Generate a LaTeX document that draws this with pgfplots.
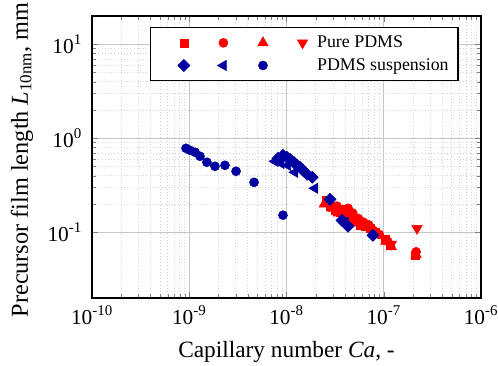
\documentclass[border=0pt]{standalone}
\usepackage{fontspec}
\setmainfont{Liberation Serif}
\usepackage{pgfplots}
\pgfplotsset{compat=1.18}
\definecolor{pred}{RGB}{255,0,0}
\definecolor{pblue}{RGB}{0,0,160}
\pgfplotsset{
  stdleg/.style={legend image code/.code={\path (0cm,0cm) (0.6cm,0cm); \draw[##1, line width=0.4pt] plot coordinates {(0.3cm,0cm)};}},
  firstleg/.style={legend image code/.code={\path (-0.39cm,0cm) (0.6cm,0cm); \draw[##1, line width=0.4pt] plot coordinates {(0.3cm,0cm)};}},
  log number format basis/.code 2 args={\mbox{\fontsize{16}{18}\selectfont #1\textsuperscript{\pgfmathprintnumber[assume math mode=true]{#2}}}},
}
\begin{document}
\begin{tikzpicture}
\begin{axis}[
  scale only axis, width=291.75pt, height=211.5pt,
  xmode=log, ymode=log,
  xmin=1e-10, xmax=1e-6, ymin=0.02, ymax=20,
  xtick={1e-10,1e-9,1e-8,1e-7,1e-6},
  ytick={0.1,1,10},
  every tick label/.append style={font=\fontsize{16}{18}\selectfont},
  xticklabel style={yshift=-2.5pt},
  yticklabel style={xshift=-4pt},
  tick align=inside,
  grid=both,
  major grid style={gray!45, line width=0.6pt},
  minor grid style={gray!35, dotted, line width=0.5pt},
  axis line style={line width=0.9pt},
  xlabel={Capillary number \textit{Ca}, -},
  ylabel={Precursor film length \textit{L}\textsubscript{10nm}, mm},
  xlabel style={font=\fontsize{17.5}{20}\selectfont, at={(axis description cs:0.5,-0.19)}, anchor=center},
  ylabel style={font=\fontsize{18.2}{21}\selectfont, at={(axis description cs:-0.18,0.49)}, anchor=center},
  legend columns=4,
  legend cell align=left,
  legend style={at={(axis description cs:0.149,0.961)}, anchor=north west,
    font=\fontsize{13.4}{15}\selectfont, draw=black, line width=0.8pt,
    inner xsep=5pt, inner ysep=3pt,
    nodes={inner ysep=3.3pt, line width=0.4pt},
    /tikz/every even column/.append style={column sep=7.8pt}},
  stdleg,
]
% Pure PDMS
\addplot[only marks, mark=square*, color=pred, mark size=3pt, firstleg]
  coordinates {
  (2.55e-8,0.22) (2.8e-8,0.19) (3.15e-8,0.17) (3.55e-8,0.163) (4.0e-8,0.148)
  (4.5e-8,0.14) (5.06e-8,0.13) (5.7e-8,0.12) (6.41e-8,0.115) (7.22e-8,0.11)
  (8.13e-8,0.10) (1.03e-7,0.085) (1.16e-7,0.072) (2.1e-7,0.057)};
\addlegendentry{\relax}
\addplot[only marks, mark=*, color=pred, mark size=3.4pt]
  coordinates {
  (2.8e-8,0.2) (3.3e-8,0.19) (3.8e-8,0.175) (4.3e-8,0.18) (4.8e-8,0.16)
  (5.5e-8,0.14) (6.2e-8,0.128) (7.0e-8,0.12) (7.8e-8,0.105) (9e-8,0.095)
  (1.1e-7,0.08) (2.15e-7,0.062)};
\addlegendentry{\relax}
\addplot[only marks, mark=triangle*, color=pred, mark size=4.5pt]
  coordinates {
  (2.45e-8,0.2) (3.0e-8,0.18) (3.4e-8,0.16) (4.0e-8,0.165) (4.6e-8,0.15)
  (5.3e-8,0.125) (6e-8,0.12) (6.8e-8,0.115) (8e-8,0.1) (1.05e-7,0.08)
  (1.2e-7,0.07) (2.15e-7,0.058)};
\addlegendentry{\relax}
\addplot[only marks, mark=triangle*, mark options={rotate=180}, color=pred, mark size=4.5pt]
  coordinates {(2.2e-7,0.11) (1.2e-7,0.075)};
\addlegendentry{Pure PDMS}
% PDMS suspension
\addplot[only marks, mark=square*, mark options={rotate=45}, color=pblue, mark size=3.2pt, firstleg]
  coordinates {
  (8.18e-9,0.613) (9.2e-9,0.659) (1.01e-8,0.628) (1.09e-8,0.598) (1.19e-8,0.556)
  (1.28e-8,0.516) (1.38e-8,0.491) (1.48e-8,0.457) (1.63e-8,0.414) (1.84e-8,0.385)
  (2.80e-8,0.224) (3.72e-8,0.134) (4.29e-8,0.116) (7.75e-8,0.0929)};
\addlegendentry{\relax}
\addplot[only marks, mark=triangle*, mark options={rotate=90}, color=pblue, mark size=4.5pt]
  coordinates {
  (7.62e-9,0.569) (8.78e-9,0.542) (1.03e-8,0.516) (1.22e-8,0.435) (1.96e-8,0.294)
  (4.0e-8,0.128)};
\addlegendentry{\relax}
\addplot[only marks, mark=*, color=pblue, mark size=3.4pt]
  coordinates {
  (9.27e-10,0.783) (1.02e-9,0.745) (1.15e-9,0.71) (1.29e-9,0.644) (1.52e-9,0.556)
  (1.84e-9,0.504) (2.33e-9,0.516) (3.03e-9,0.446) (4.64e-9,0.340) (9.2e-9,0.152)};
\addlegendentry{\relax}
\addlegendimage{legend image code/.code={\path (0cm,0cm) (0.6cm,0cm);}}
\addlegendentry{PDMS suspension}
\end{axis}
\pgfresetboundingbox
\path ([shift={(-69pt,-50.25pt)}]current axis.south west) rectangle ([shift={(12.75pt,12pt)}]current axis.north east);
\end{tikzpicture}
\end{document}
